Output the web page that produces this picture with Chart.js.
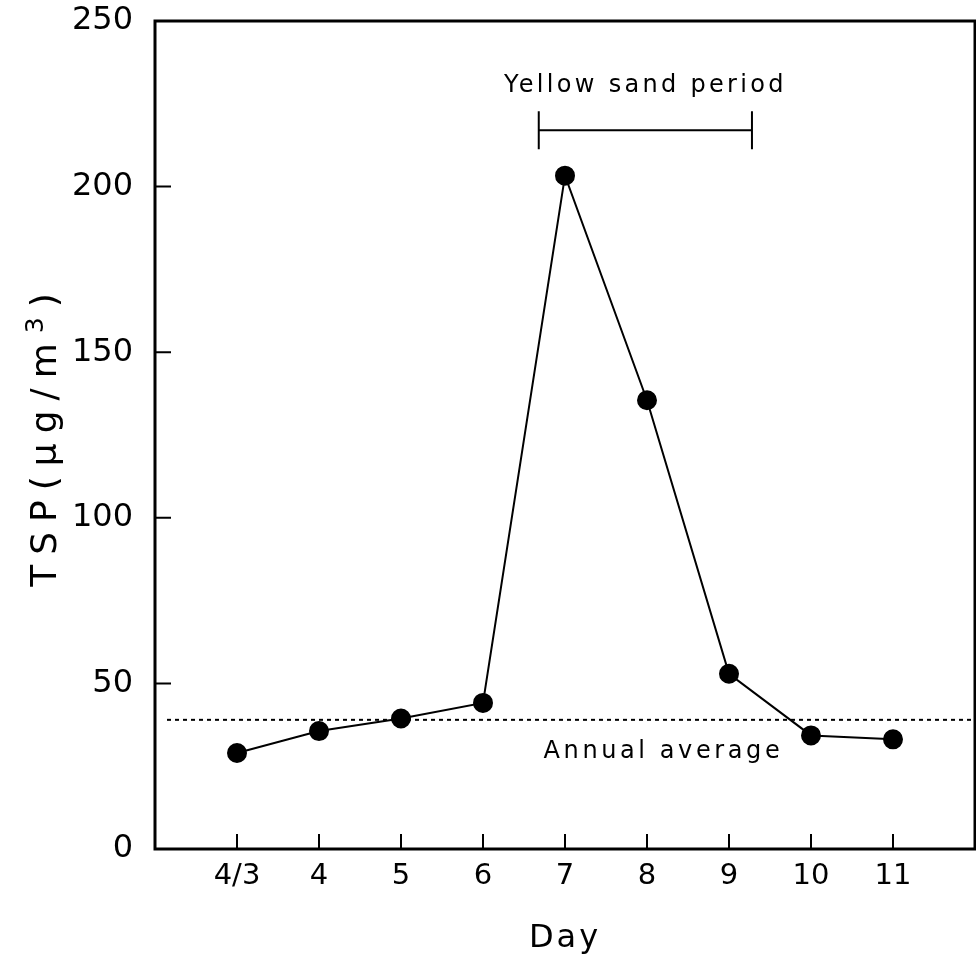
<!DOCTYPE html>
<html>
<head>
<meta charset="utf-8">
<title>TSP yellow sand</title>
<script src="https://cdn.jsdelivr.net/npm/chart.js@4.4.0/dist/chart.umd.min.js"></script>
<style>
  html, body { margin: 0; padding: 0; background: #fff; }
  #wrap { width: 976px; height: 956px; }
</style>
</head>
<body>
<div id="wrap"><canvas id="tspChart"></canvas></div>
<script>
/* --------------- Data --------------------- */
const days = ["4/3", "4", "5", "6", "7", "8", "9", "10", "11"];
const tspValues = [29, 35.6, 39.4, 44.1, 203.3, 135.5, 52.9, 34.3, 33.1];
const yTicks = [0, 50, 100, 150, 200, 250];
const annualAverage = 39;
const sandPeriod = [3.68, 6.28]; // start / end, in day-index units

const FONT = "'DejaVu Sans', sans-serif";

/* --------------- Frame, ticks and notes --------------------- */
const annotate = {
  id: "annotate",
  afterDraw(chart) {
    const { ctx, chartArea: a } = chart;
    const xs = chart.scales.x;
    const ys = chart.scales.y;
    ctx.save();
    ctx.strokeStyle = "#000";
    ctx.fillStyle = "#000";

    // box
    ctx.lineWidth = 3;
    ctx.strokeRect(a.left, a.top, a.right - a.left, a.bottom - a.top);

    // inward ticks
    ctx.lineWidth = 2;
    ctx.beginPath();
    yTicks.forEach((v) => {
      const y = ys.getPixelForValue(v);
      ctx.moveTo(a.left, y);
      ctx.lineTo(a.left + 16, y);
    });
    days.forEach((_, i) => {
      const x = xs.getPixelForValue(i);
      ctx.moveTo(x, a.bottom);
      ctx.lineTo(x, a.bottom - 15);
    });
    ctx.stroke();

    // annual average (dotted)
    const ay = ys.getPixelForValue(annualAverage);
    ctx.lineWidth = 2;
    ctx.setLineDash([4, 4]);
    ctx.beginPath();
    ctx.moveTo(a.left + 12, ay);
    ctx.lineTo(a.right, ay);
    ctx.stroke();
    ctx.setLineDash([]);

    ctx.font = "24px " + FONT;
    ctx.letterSpacing = "3.6px";
    ctx.textAlign = "center";
    ctx.textBaseline = "middle";
    ctx.fillText("Annual average", xs.getPixelForValue(5.2), ay + 32);

    // yellow sand bracket
    const x1 = xs.getPixelForValue(sandPeriod[0]);
    const x2 = xs.getPixelForValue(sandPeriod[1]);
    const by = ys.getPixelForValue(217);
    ctx.lineWidth = 2;
    ctx.beginPath();
    ctx.moveTo(x1, by);
    ctx.lineTo(x2, by);
    ctx.moveTo(x1, by - 19);
    ctx.lineTo(x1, by + 19);
    ctx.moveTo(x2, by - 19);
    ctx.lineTo(x2, by + 19);
    ctx.stroke();
    ctx.font = "24px " + FONT;
    ctx.letterSpacing = "3.3px";
    ctx.fillText("Yellow sand period", (x1 + x2) / 2, by - 45);

    // x title
    ctx.font = "32px " + FONT;
    ctx.letterSpacing = "3px";
    ctx.textBaseline = "alphabetic";
    ctx.fillText("Day", (a.left + a.right) / 2, 947);

    // y title, rotated, with raised 3
    ctx.translate(56, (a.top + a.bottom) / 2);
    ctx.rotate(-Math.PI / 2);
    ctx.textAlign = "left";
    const parts = [
      { t: "TSP(\u03bcg/m", f: "36px " + FONT, dy: 0 },
      { t: "3", f: "25px " + FONT, dy: -13 },
      { t: ")", f: "36px " + FONT, dy: 0 },
    ];
    ctx.letterSpacing = "10px";
    let total = 0;
    parts.forEach((p) => {
      ctx.font = p.f;
      p.w = ctx.measureText(p.t).width;
      total += p.w;
    });
    let cx = -total / 2;
    parts.forEach((p) => {
      ctx.font = p.f;
      ctx.fillText(p.t, cx, p.dy);
      cx += p.w;
    });
    ctx.restore();
  },
};

/* --------------- Chart --------------------- */
const tspChart = new Chart(document.getElementById("tspChart"), {
  type: "line",
  data: {
    datasets: [
      {
        data: tspValues.map((v, i) => ({ x: i, y: v })),
        borderColor: "#000",
        borderWidth: 2,
        backgroundColor: "#000",
        pointBackgroundColor: "#000",
        pointBorderColor: "#000",
        pointRadius: 9,
        tension: 0,
        clip: false,
      },
    ],
  },
  options: {
    responsive: true,
    maintainAspectRatio: false,
    animation: false,
    layout: { autoPadding: false, padding: { left: 0, top: 21, right: 1, bottom: 0 } },
    plugins: {
      legend: { display: false },
      tooltip: { enabled: false },
    },
    scales: {
      x: {
        type: "linear",
        min: -1,
        max: 9,
        grid: { display: false, drawTicks: false },
        border: { display: false },
        afterBuildTicks: (scale) => {
          scale.ticks = days.map((_, i) => ({ value: i }));
        },
        afterFit: (scale) => {
          scale.height = 107;
          scale.paddingLeft = 0;
          scale.paddingRight = 0;
        },
        ticks: {
          autoSkip: false,
          maxRotation: 0,
          padding: 10,
          color: "#000",
          font: { family: FONT, size: 29 },
          callback: (v) => days[v] ?? "",
        },
      },
      y: {
        min: 0,
        max: 250,
        grid: { display: false, drawTicks: false },
        border: { display: false },
        afterBuildTicks: (scale) => {
          scale.ticks = yTicks.map((v) => ({ value: v }));
        },
        afterFit: (scale) => {
          scale.width = 155;
          scale.paddingTop = 0;
          scale.paddingBottom = 0;
        },
        ticks: {
          padding: 22,
          color: "#000",
          font: { family: FONT, size: 32 },
        },
      },
    },
  },
  plugins: [annotate],
});
</script>
</body>
</html>
